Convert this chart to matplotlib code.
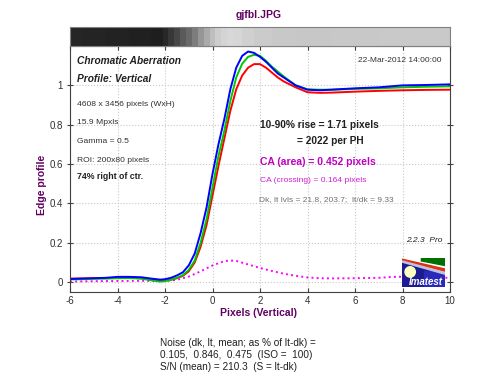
import matplotlib
matplotlib.use("Agg")
import matplotlib.pyplot as plt
from matplotlib.patches import Polygon, Ellipse, Rectangle

plt.rcParams['font.family'] = ['Liberation Sans', 'DejaVu Sans']
plt.rcParams['axes.unicode_minus'] = False

# edge profiles
x_pix = [-6, -5.5, -5, -4.5, -4, -3.5, -3, -2.5, -2.2, -2, -1.75, -1.5, -1.25, -1,
         -0.75, -0.5, -0.25, 0, 0.25, 0.5, 0.75, 1, 1.25, 1.5, 1.75, 2, 2.25, 2.5,
         2.75, 3, 3.5, 4, 4.5, 5, 6, 7, 8, 9, 10]
blue = [0.016, 0.018, 0.020, 0.022, 0.027, 0.027, 0.025, 0.017, 0.013, 0.015, 0.022, 0.034, 0.050, 0.085,
        0.145, 0.25, 0.38, 0.55, 0.70, 0.83, 0.98, 1.09, 1.15, 1.172, 1.165, 1.145, 1.12, 1.09,
        1.06, 1.04, 1.00, 0.978, 0.975, 0.978, 0.985, 0.99, 1.0, 1.002, 1.005]
green = [0.014, 0.015, 0.017, 0.018, 0.020, 0.021, 0.018, 0.008, 0.003, 0.005, 0.012, 0.022, 0.035, 0.062,
         0.11, 0.20, 0.32, 0.48, 0.64, 0.77, 0.92, 1.04, 1.11, 1.145, 1.155, 1.15, 1.125, 1.095,
         1.07, 1.045, 1.0, 0.98, 0.978, 0.978, 0.982, 0.985, 0.99, 0.993, 0.995]
red = [0.018, 0.019, 0.020, 0.021, 0.022, 0.022, 0.020, 0.012, 0.008, 0.008, 0.012, 0.020, 0.032, 0.055,
       0.10, 0.18, 0.29, 0.44, 0.59, 0.73, 0.87, 0.98, 1.05, 1.09, 1.108, 1.108, 1.09, 1.065,
       1.04, 1.02, 0.99, 0.965, 0.962, 0.963, 0.968, 0.972, 0.975, 0.977, 0.978]

# CA difference curve (dotted magenta)
x_ca = [-6, -5, -4, -3, -2, -1.5, -1, -0.5, 0, 0.5, 0.75, 1, 1.5, 2, 2.5, 3, 3.5, 4,
        4.5, 5, 6, 7, 7.5, 8, 8.5, 9, 10]
ca = [0.003, 0.005, 0.006, 0.007, 0.006, 0.012, 0.028, 0.055, 0.085, 0.107, 0.11, 0.108, 0.09, 0.072,
      0.057, 0.043, 0.032, 0.024, 0.020, 0.019, 0.020, 0.022, 0.026, 0.028, 0.027, 0.024, 0.022]

# gray strip above the plot (0-255)
x_strip = [-6, -5, -4, -3, -2.2, -2, -1.75, -1.5, -1.25, -1, -0.75, -0.5, -0.25, 0, 0.25,
           0.5, 0.75, 1, 1.5, 2, 3, 4, 6, 8, 10]
gray_strip = [38, 36, 34, 32, 30, 40, 55, 70, 90, 105, 125, 150, 170, 190, 205,
              212, 216, 214, 208, 203, 200, 199, 200, 201, 201]

xticks = [-6, -4, -2, 0, 2, 4, 6, 8, 10]
yticks = [0, 0.2, 0.4, 0.6, 0.8, 1]

purple = '#600060'
W, H = 500, 384

def fx(px):
    return px / W

def fy(py):
    return 1 - py / H

fig = plt.figure(figsize=(5, 3.84), dpi=100)

ax = fig.add_axes([fx(70), fy(292), 380 / W, 246 / H])
ax.plot(x_ca, ca, color='#ff00ff', linestyle=':', linewidth=1.4)
ax.plot(x_pix, red, color='#ff0000', linewidth=1.4)
ax.plot(x_pix, green, color='#00c800', linewidth=1.4)
ax.plot(x_pix, blue, color='#0000ff', linewidth=1.4)
ax.set_xlim(-6, 10)
ax.set_ylim(-0.05, 1.2)
ax.set_xticks(xticks)
ax.set_yticks(yticks)
ax.set_yticklabels(['0', '0.2', '0.4', '0.6', '0.8', '1'])
ax.grid(True, linestyle=':', color='#c8c8c8', linewidth=0.8)
ax.tick_params(top=True, right=True, direction='in', length=3, labelsize=7,
               colors='#404040', labelcolor='#303030', pad=3)
ax.tick_params(axis='y', which='both', left=True, direction='inout', length=4)
for s in ax.spines.values():
    s.set_color('#404040')
    s.set_linewidth(0.8)

# gray strip
axs = fig.add_axes([fx(70), fy(46), 380 / W, 19 / H])
axs.pcolormesh(x_strip, [0, 1], [gray_strip, gray_strip], cmap='gray', vmin=0, vmax=255,
               shading='nearest')
axs.set_xlim(-6, 10)
axs.set_ylim(0, 1)
axs.set_xticks([])
axs.set_yticks([])
for s in axs.spines.values():
    s.set_color('#808080')
    s.set_linewidth(0.8)

# texts
fig.text(fx(259), fy(15), 'gjfbl.JPG', color=purple, fontsize=7.5, fontweight='bold',
         ha='center', va='center')
fig.text(fx(259), fy(313), 'Pixels (Vertical)', color=purple, fontsize=7.5, fontweight='bold',
         ha='center', va='center')
fig.text(fx(42), fy(185), 'Edge profile', color=purple, fontsize=7.5, fontweight='bold',
         ha='center', va='center', rotation=90)

fig.text(fx(77), fy(61), 'Chromatic Aberration', fontsize=7.3, fontweight='bold',
         style='italic', color='#202020', va='center')
fig.text(fx(77), fy(79), 'Profile: Vertical', fontsize=7.3, fontweight='bold',
         style='italic', color='#202020', va='center')
small = ['4608 x 3456 pixels (WxH)', '15.9 Mpxls', 'Gamma = 0.5', 'ROI: 200x80 pixels']
for txt, py in zip(small, [104, 122.5, 141.5, 160.5]):
    fig.text(fx(77), fy(py), txt, fontsize=6.1, color='#303030', va='center')
fig.text(fx(77), fy(176.5), '74% right of ctr.', fontsize=6.3, fontweight='bold',
         color='#202020', va='center')

fig.text(fx(442), fy(61), '22-Mar-2012 14:00:00', fontsize=6, color='#303030',
         ha='right', va='center')
fig.text(fx(260), fy(125), '10-90% rise = 1.71 pixels', fontsize=7.3, fontweight='bold',
         color='#202020', va='center')
fig.text(fx(297), fy(141.5), '= 2022 per PH', fontsize=7.3, fontweight='bold',
         color='#202020', va='center')
fig.text(fx(260), fy(162.5), 'CA (area) = 0.452 pixels', fontsize=7.5, fontweight='bold',
         color='#c000c0', va='center')
fig.text(fx(260), fy(180), 'CA (crossing) = 0.164 pixels', fontsize=6.1,
         color='#d020d0', va='center')
fig.text(fx(259), fy(200), 'Dk, lt lvls = 21.8, 203.7;  lt/dk = 9.33', fontsize=6,
         color='#707070', va='center')
fig.text(fx(442), fy(240), '2.2.3  Pro', fontsize=6, style='italic', color='#202020',
         ha='right', va='center')

noise = ['Noise (dk, lt, mean; as % of lt-dk) =',
         '0.105,  0.846,  0.475  (ISO =  100)',
         'S/N (mean) = 210.3  (S = lt-dk)']
for txt, py in zip(noise, [342.7, 355, 367.3]):
    fig.text(fx(160), fy(py), txt, fontsize=7.2, color='#202020', va='center')

# Imatest logo
axl = fig.add_axes([fx(402), fy(287), 43 / W, 29 / H])
axl.set_xlim(0, 1)
axl.set_ylim(0, 1)
axl.axis('off')
axl.add_patch(Rectangle((0, 0), 1, 1, color='#1c1c90'))
axl.add_patch(Rectangle((0.5, 0), 0.5, 0.55, color='#2a2ab8'))
axl.add_patch(Polygon([(0, 1), (1, 1), (1, 0.5), (0, 0.9)], color='white'))
axl.add_patch(Polygon([(0.45, 0.98), (1, 0.98), (1, 0.74), (0.45, 0.9)], color='#007000'))
axl.add_patch(Polygon([(0, 0.96), (1, 0.62), (1, 0.54), (0, 0.92)], color='#e03010'))
axl.add_patch(Polygon([(0, 0.9), (1, 0.5), (1, 0.44), (0, 0.86)], color='#c0c0e0'))
axl.add_patch(Ellipse((0.19, 0.52), 0.24, 0.36, color='#ffffc0'))
axl.text(0.55, 0.18, 'Imatest', color='white', fontsize=7, fontweight='bold',
         style='italic', ha='center', va='center')

fig.savefig('out.png', dpi=100)
